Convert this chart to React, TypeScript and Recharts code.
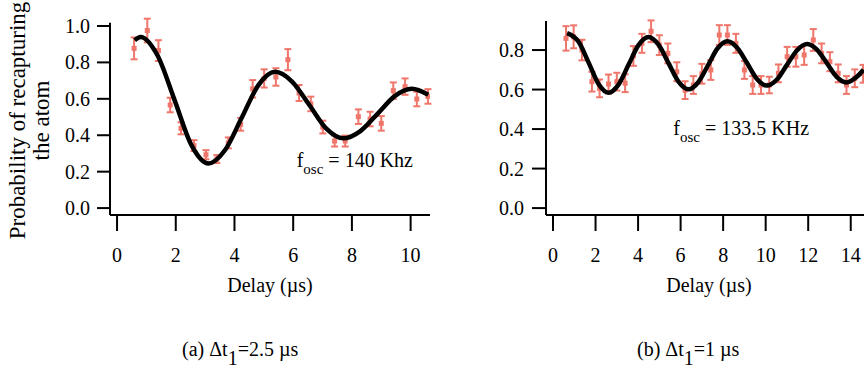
import React from 'react';
import { ComposedChart, Line, Scatter, ErrorBar, XAxis, YAxis } from 'recharts';

// ---- Panel (a) data ----
const leftPointX = [0.58, 1.03, 1.41, 1.81, 2.18, 2.62, 3.03, 3.4, 3.79, 4.21, 4.62, 5.01, 5.41, 5.82, 6.2, 6.6, 7.01, 7.41, 7.77, 8.22, 8.62, 9.0, 9.41, 9.81, 10.21, 10.59];
const leftPointY = [0.877, 0.975, 0.865, 0.566, 0.438, 0.343, 0.293, 0.269, 0.358, 0.46, 0.655, 0.712, 0.72, 0.815, 0.632, 0.572, 0.445, 0.368, 0.368, 0.502, 0.489, 0.465, 0.645, 0.667, 0.599, 0.613];
const leftPointErr = [0.06, 0.065, 0.057, 0.04, 0.033, 0.03, 0.025, 0.022, 0.03, 0.035, 0.048, 0.05, 0.048, 0.058, 0.044, 0.04, 0.035, 0.03, 0.03, 0.04, 0.04, 0.04, 0.045, 0.045, 0.04, 0.04];
const leftCurveX = [0.6, 0.8, 1.38, 1.96, 2.53, 3.11, 3.68, 4.25, 4.81, 5.38, 5.96, 6.55, 7.13, 7.71, 8.29, 8.88, 9.46, 10.04, 10.6];
const leftCurveY = [0.922, 0.94, 0.838, 0.593, 0.347, 0.245, 0.319, 0.497, 0.674, 0.748, 0.695, 0.566, 0.436, 0.383, 0.423, 0.519, 0.615, 0.655, 0.622];
const leftXTicks = [0, 2, 4, 6, 8, 10];
const leftYTicks = [0, 0.2, 0.4, 0.6, 0.8, 1.0];

// ---- Panel (b) data ----
const rightPointX = [0.61, 0.97, 1.36, 1.83, 2.19, 2.61, 3.0, 3.39, 3.78, 4.18, 4.61, 5.0, 5.4, 5.82, 6.21, 6.6, 7.0, 7.42, 7.82, 8.2, 8.6, 9.0, 9.39, 9.78, 10.17, 10.6, 11.01, 11.42, 11.81, 12.24, 12.63, 13.02, 13.41, 13.8, 14.19, 14.58];
const rightPointY = [0.859, 0.867, 0.8, 0.64, 0.606, 0.628, 0.64, 0.632, 0.77, 0.834, 0.895, 0.825, 0.783, 0.69, 0.597, 0.623, 0.68, 0.699, 0.876, 0.876, 0.834, 0.699, 0.623, 0.623, 0.623, 0.682, 0.766, 0.766, 0.775, 0.851, 0.783, 0.741, 0.682, 0.623, 0.657, 0.68];
const rightPointErr = [0.062, 0.058, 0.052, 0.05, 0.045, 0.048, 0.045, 0.045, 0.05, 0.048, 0.055, 0.05, 0.05, 0.048, 0.045, 0.045, 0.05, 0.05, 0.05, 0.05, 0.048, 0.045, 0.045, 0.045, 0.042, 0.045, 0.05, 0.05, 0.05, 0.055, 0.05, 0.048, 0.045, 0.045, 0.045, 0.045];
const rightCurveX = [0.66, 1.21, 1.68, 2.14, 2.61, 3.08, 3.55, 4.02, 4.49, 4.96, 5.43, 5.9, 6.37, 6.83, 7.29, 7.74, 8.2, 8.66, 9.13, 9.59, 10.05, 10.53, 11.0, 11.48, 11.95, 12.41, 12.88, 13.34, 13.8, 14.26, 14.6];
const rightCurveY = [0.886, 0.841, 0.735, 0.628, 0.584, 0.625, 0.725, 0.825, 0.866, 0.827, 0.734, 0.64, 0.601, 0.637, 0.723, 0.809, 0.845, 0.812, 0.733, 0.653, 0.62, 0.651, 0.725, 0.799, 0.83, 0.802, 0.733, 0.664, 0.636, 0.662, 0.7];
const rightXTicks = [0, 2, 4, 6, 8, 10, 12, 14];
const rightYTicks = [0, 0.2, 0.4, 0.6, 0.8];

const FONT = "'Liberation Serif', 'Times New Roman', serif";
const RED = '#ef766b';

const toPoints = (xs: number[], ys: number[], es: number[]) => xs.map((x, i) => ({ x, y: ys[i], err: es[i] }));
const toCurve = (xs: number[], ys: number[]) => xs.map((x, i) => ({ x, y: ys[i] }));

const Marker = (props: any) => {
  const { cx, cy } = props;
  if (cx == null || cy == null) return null;
  return <rect x={cx - 2.5} y={cy - 2.5} width={5} height={5} fill={RED} />;
};

const tickStyle = { fill: '#000', fontSize: 20, fontFamily: FONT };
const axisStroke = { stroke: '#000', strokeWidth: 2 };

interface PanelProps {
  layer: 'points' | 'curve';
  points: { x: number; y: number; err: number }[];
  curve: { x: number; y: number }[];
  xDomain: [number, number];
  yDomain: [number, number];
  xTicks: number[];
  yTicks: number[];
  width: number;
  top: number;
  right: number;
  yAxisWidth: number;
  yTickSize: number;
  yTickMargin: number;
}

const Panel = (p: PanelProps) => {
  const show = p.layer === 'points';
  return (
    <ComposedChart width={p.width} height={300} margin={{ top: p.top, right: p.right, bottom: 0, left: 0 }}>
      <XAxis
        type="number"
        dataKey="x"
        domain={p.xDomain}
        ticks={p.xTicks}
        interval={0}
        allowDataOverflow
        height={85}
        tickSize={16}
        tickMargin={17}
        tick={show ? tickStyle : false}
        axisLine={show ? axisStroke : false}
        tickLine={show ? axisStroke : false}
        label={show ? { value: 'Delay (µs)', position: 'insideBottom', offset: 8, fill: '#000', fontSize: 20, fontFamily: FONT } : undefined}
      />
      <YAxis
        type="number"
        dataKey="y"
        domain={p.yDomain}
        ticks={p.yTicks}
        interval={0}
        allowDataOverflow
        width={p.yAxisWidth}
        tickSize={p.yTickSize}
        tickMargin={p.yTickMargin}
        tickFormatter={(v: number) => v.toFixed(1)}
        tick={show ? tickStyle : false}
        axisLine={show ? axisStroke : false}
        tickLine={show ? axisStroke : false}
      />
      {show ? (
        <Scatter data={p.points} dataKey="y" shape={Marker} isAnimationActive={false}>
          <ErrorBar dataKey="err" direction="y" width={3.5} stroke={RED} strokeWidth={2} isAnimationActive={false} />
        </Scatter>
      ) : (
        <Line
          data={p.curve}
          dataKey="y"
          type="monotone"
          dot={false}
          activeDot={false}
          stroke="#000"
          strokeWidth={4.5}
          isAnimationActive={false}
        />
      )}
    </ComposedChart>
  );
};

export default function App() {
  const leftPoints = toPoints(leftPointX, leftPointY, leftPointErr);
  const leftCurve = toCurve(leftCurveX, leftCurveY);
  const rightPoints = toPoints(rightPointX, rightPointY, rightPointErr);
  const rightCurve = toCurve(rightCurveX, rightCurveY);
  const leftCfg = {
    points: leftPoints,
    curve: leftCurve,
    xDomain: [-0.24, 10.66] as [number, number],
    yDomain: [-0.038, 1.018] as [number, number],
    xTicks: leftXTicks,
    yTicks: leftYTicks,
    width: 440,
    top: 22.7,
    right: 10,
    yAxisWidth: 110,
    yTickSize: 13,
    yTickMargin: 7,
  };
  const rightCfg = {
    points: rightPoints,
    curve: rightCurve,
    xDomain: [-0.33, 15] as [number, number],
    yDomain: [-0.035, 0.947] as [number, number],
    xTicks: rightXTicks,
    yTicks: rightYTicks,
    width: 442,
    top: 21,
    right: 0,
    yAxisWidth: 116,
    yTickSize: 14,
    yTickMargin: 8,
  };
  return (
    <div style={{ position: 'absolute', left: 0, top: 0, width: 864, height: 369, overflow: 'hidden', background: '#fff', fontFamily: FONT }}>
      <div style={{ position: 'absolute', left: 0, top: 0 }}>
        <Panel layer="points" {...leftCfg} />
      </div>
      <div style={{ position: 'absolute', left: 0, top: 0 }}>
        <Panel layer="curve" {...leftCfg} />
      </div>
      <div style={{ position: 'absolute', left: 430, top: 0 }}>
        <Panel layer="points" {...rightCfg} />
      </div>
      <div style={{ position: 'absolute', left: 430, top: 0 }}>
        <Panel layer="curve" {...rightCfg} />
      </div>
      <svg width={864} height={369} style={{ position: 'absolute', left: 0, top: 0, pointerEvents: 'none' }} fontFamily={FONT} fill="#000">
        <text transform="translate(25,120.5) rotate(-90)" textAnchor="middle" fontSize={23}>Probability of recapturing</text>
        <text transform="translate(48.5,120.5) rotate(-90)" textAnchor="middle" fontSize={23}>the atom</text>
        <text x={296.7} y={166.7} fontSize={20}>
          f<tspan fontSize={15} dy={7}>osc</tspan><tspan dy={-7}> = 140 Khz</tspan>
        </text>
        <text x={673.3} y={135} fontSize={20}>
          f<tspan fontSize={15} dy={7}>osc</tspan><tspan dy={-7}> = 133.5 KHz</tspan>
        </text>
        <text x={182} y={356} fontSize={20}>
          (a) Δt<tspan dy={9}>1</tspan><tspan dy={-9}>=2.5 µs</tspan>
        </text>
        <text x={637} y={356} fontSize={20}>
          (b) Δt<tspan dy={9}>1</tspan><tspan dy={-9}>=1 µs</tspan>
        </text>
      </svg>
    </div>
  );
}
